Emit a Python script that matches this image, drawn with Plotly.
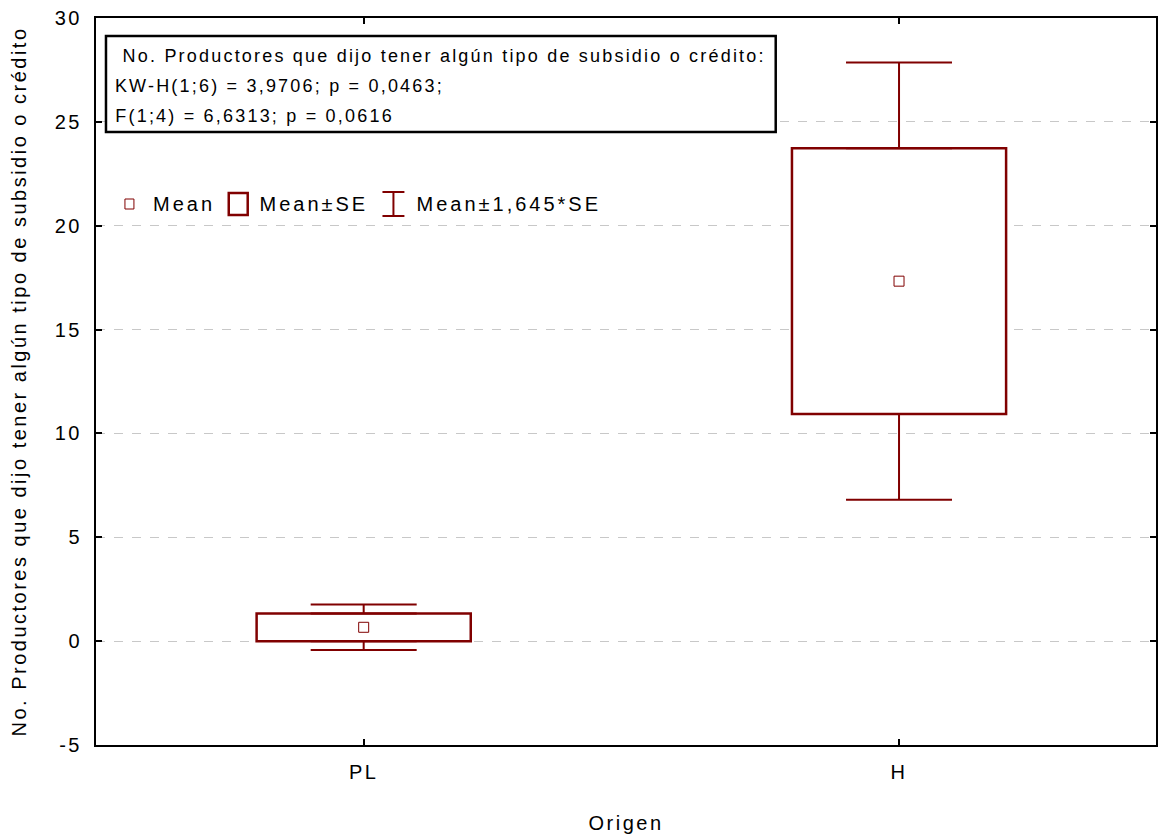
import plotly.graph_objects as go

# ---- data ----
categories = ["PL", "H"]
means = [0.667, 17.33]
se = [0.667, 6.40]
z_factor = 1.645
y_tickvals = [-5, 0, 5, 10, 15, 20, 25, 30]
y_ticktext = ["-5", "0", "5", "10", "15", "20", "25", "30"]

RED = "#800000"
FONT = "Liberation Sans, Arial, sans-serif"
FS = 20         # axis text size
FS_LEG = 20     # legend text size
FS_ANN = 18     # statistics box text size
SP = 2.5        # letter spacing (px) of axis text
SP_LEG = 3.0    # letter spacing of legend text
SP_ANN = 2.2    # letter spacing of statistics box text

box_base = [m - s for m, s in zip(means, se)]
box_height = [2 * s for s in se]
upper_start = [m + s for m, s in zip(means, se)]
lower_start = [m - s for m, s in zip(means, se)]
whisk_len = [(z_factor - 1) * s for s in se]
zeros = [0 for _ in se]

fig = go.Figure()

# boxes (mean +/- SE)
fig.add_trace(go.Bar(
    x=categories, y=box_height, base=box_base, width=0.4,
    marker=dict(color="white", line=dict(color=RED, width=2.5)),
    hoverinfo="skip",
))
# upper whiskers
fig.add_trace(go.Scatter(
    x=categories, y=upper_start, mode="markers",
    marker=dict(size=1, color="rgba(0,0,0,0)"),
    error_y=dict(type="data", symmetric=False, array=whisk_len, arrayminus=zeros,
                 width=53, thickness=2, color=RED),
    hoverinfo="skip",
))
# lower whiskers
fig.add_trace(go.Scatter(
    x=categories, y=lower_start, mode="markers",
    marker=dict(size=1, color="rgba(0,0,0,0)"),
    error_y=dict(type="data", symmetric=False, array=zeros, arrayminus=whisk_len,
                 width=53, thickness=2, color=RED),
    hoverinfo="skip",
))
# means
fig.add_trace(go.Scatter(
    x=categories, y=means, mode="markers",
    marker=dict(symbol="square-open", size=10, color=RED, line=dict(width=1, color=RED)),
))

# ---- layout helpers (pixel -> paper) ----
L, R, T, B = 96, 3, 18, 90
W, H = 1161, 835
PW, PH = W - L - R, H - T - B


def px(xp):
    return (xp - L) / PW


def py(yp):
    return (H - B - yp) / PH


shapes = []
annotations = []

# statistics box
shapes.append(dict(type="rect", xref="paper", yref="paper",
                   x0=px(106), x1=px(777), y0=py(36), y1=py(132),
                   line=dict(color="black", width=2.5), fillcolor="white"))
stat_lines = [
    ("No. Productores que dijo tener algún tipo de subsidio o crédito:", 121, 56),
    ("KW-H(1;6) = 3,9706; p = 0,0463;", 113, 86),
    ("F(1;4) = 6,6313; p = 0,0616", 113, 116),
]
for txt, xx, yy in stat_lines:
    # letter spacing grows the (middle-anchored) text symmetrically: compensate
    annotations.append(dict(text=txt, xref="paper", yref="paper",
                            x=px(xx + len(txt) * SP_ANN / 2), y=py(yy),
                            xanchor="left", yanchor="middle", showarrow=False,
                            font=dict(family=FONT, size=FS_ANN, color="black")))

# legend
LY = 204
shapes.append(dict(type="rect", xref="paper", yref="paper",
                   x0=px(125), x1=px(134), y0=py(199), y1=py(209),
                   line=dict(color=RED, width=1)))
shapes.append(dict(type="rect", xref="paper", yref="paper",
                   x0=px(229), x1=px(248), y0=py(193), y1=py(215),
                   line=dict(color=RED, width=2.5)))
shapes.append(dict(type="line", xref="paper", yref="paper",
                   x0=px(394), x1=px(394), y0=py(192), y1=py(216),
                   line=dict(color=RED, width=2)))
shapes.append(dict(type="line", xref="paper", yref="paper",
                   x0=px(383), x1=px(405), y0=py(192), y1=py(192),
                   line=dict(color=RED, width=2)))
shapes.append(dict(type="line", xref="paper", yref="paper",
                   x0=px(383), x1=px(405), y0=py(216), y1=py(216),
                   line=dict(color=RED, width=2)))
legend_items = [("Mean", 151), ("Mean±SE", 258), ("Mean±1,645*SE", 415)]
for txt, xx in legend_items:
    annotations.append(dict(text=txt, xref="paper", yref="paper",
                            x=px(xx + len(txt) * SP_LEG / 2), y=py(LY),
                            xanchor="left", yanchor="middle", showarrow=False,
                            font=dict(family=FONT, size=FS_LEG, color="black")))

fig.update_layout(
    width=W, height=H,
    margin=dict(l=L, r=R, t=T, b=B),
    plot_bgcolor="white", paper_bgcolor="white",
    showlegend=False,
    font=dict(family=FONT, size=FS, color="black"),
    shapes=shapes, annotations=annotations,
    xaxis=dict(
        type="category", range=[-0.5, 1.48],
        showline=True, linecolor="black", linewidth=2, mirror="ticks",
        ticks="inside", ticklen=6, tickwidth=1.5, tickcolor="black",
        showgrid=False, zeroline=False,
        tickfont=dict(family=FONT, size=FS, color="black"),
        ticklabelstandoff=8,
        title=dict(text="Origen", font=dict(family=FONT, size=FS, color="black"), standoff=34),
    ),
    yaxis=dict(
        range=[-5, 30], tickvals=y_tickvals, ticktext=y_ticktext,
        showline=True, linecolor="black", linewidth=2, mirror="ticks",
        ticks="inside", ticklen=6, tickwidth=1.5, tickcolor="black",
        showgrid=True, gridcolor="#c8c8c8", griddash="dash", gridwidth=1,
        zeroline=False,
        tickfont=dict(family=FONT, size=FS, color="black"),
        ticklabelstandoff=8,
        title=dict(text="No. Productores que dijo tener algún tipo de subsidio o crédito",
                   font=dict(family=FONT, size=FS, color="black"), standoff=28),
    ),
)

legend_texts = [t for t, _ in legend_items]
post = ("var gd=document.getElementById('{plot_id}');"
        "var leg=" + str(legend_texts).replace("'", '"') + ";"
        "gd.querySelectorAll('text').forEach(function(t){"
        "var fs=t.style.fontSize||'';var s='" + str(SP) + "px';"
        "if(fs.indexOf('" + str(FS_ANN) + "px')===0){s='" + str(SP_ANN) + "px';}"
        "else if(leg.indexOf(t.textContent)>=0){s='" + str(SP_LEG) + "px';}"
        "t.style.letterSpacing=s;});")
fig.write_html("out.html", post_script=post)
